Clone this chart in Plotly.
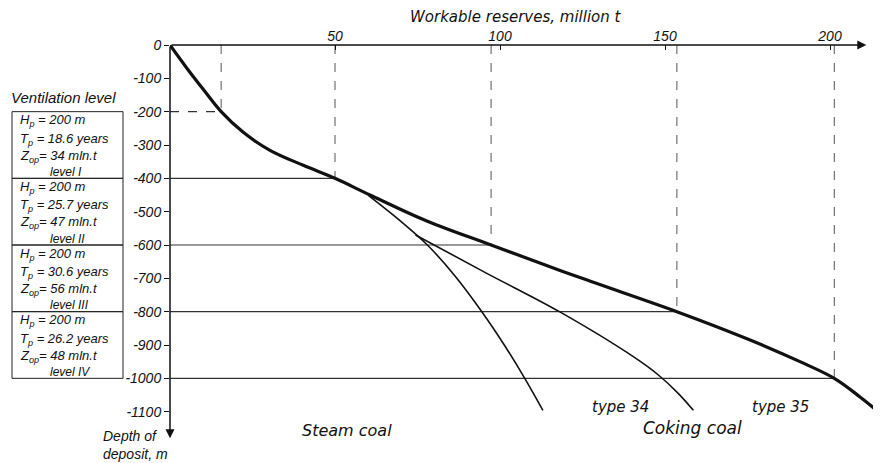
import plotly.graph_objects as go

# ---- data ----
level_depth = [-200, -400, -600, -800, -1000]
level_reserve = [15.5, 50, 97.3, 153.6, 201.3]

main_x = [0, 5, 10, 15.5, 22.2, 30.3, 40.4, 50, 60.6, 77.8, 97.3, 124, 153.6, 175.8, 190.9, 201.3, 209, 214.6]
main_y = [0, -68, -132, -200, -262, -316, -361, -400, -450, -528, -600, -697, -800, -885, -950, -1000, -1055, -1100]

steam_x = [60.2, 69.7, 78, 86.3, 94.5, 101.3, 107.5, 113]
steam_y = [-452, -527, -600, -692, -800, -900, -1000, -1096]

t34_x = [74.4, 96, 118, 140.4, 148, 154, 158.6]
t34_y = [-570, -685, -800, -935, -990, -1045, -1096]

x_ticks = [50, 100, 150, 200]
y_ticks = [0, -100, -200, -300, -400, -500, -600, -700, -800, -900, -1000, -1100]
y_ticktext = ["0", "-100", "-200", "-300", "-400", "-500", "-600", "-700", "-800",
              "-900", "-1000", "-1100"]

box_H = ["200 m", "200 m", "200 m", "200 m"]
box_T = ["18.6 years", "25.7 years", "30.6 years", "26.2 years"]
box_Z = ["34 mln.t", "47 mln.t", "56 mln.t", "48 mln.t"]
box_level = ["level I", "level II", "level III", "level IV"]

FONT = "DejaVu Sans"
FONT2 = "Liberation Sans"
INK = "#111111"

fig = go.Figure()

# guide lines
for xr, yd in zip(level_reserve, level_depth):
    fig.add_trace(go.Scatter(x=[xr, xr], y=[0, yd], mode="lines",
                             line=dict(color="#555555", width=1, dash="dash"),
                             hoverinfo="skip", showlegend=False))
    fig.add_trace(go.Scatter(x=[0, xr], y=[yd, yd], mode="lines",
                             line=dict(color="#333333", width=1.2,
                                       dash="dash" if yd == -200 else "solid"),
                             hoverinfo="skip", showlegend=False))

fig.add_trace(go.Scatter(x=steam_x, y=steam_y, mode="lines", line_shape="spline",
                         line=dict(color=INK, width=1.6), showlegend=False))
fig.add_trace(go.Scatter(x=t34_x, y=t34_y, mode="lines", line_shape="spline",
                         line=dict(color=INK, width=1.6), showlegend=False))
fig.add_trace(go.Scatter(x=main_x, y=main_y, mode="lines", line_shape="spline",
                         line=dict(color=INK, width=3.2, smoothing=1), showlegend=False))

# axis arrows
fig.add_annotation(x=211, y=0, ax=0, ay=0, xref="x", yref="y", axref="x", ayref="y",
                   text="", showarrow=True, arrowhead=2, arrowsize=1.2, arrowwidth=1.5,
                   arrowcolor=INK)
fig.add_annotation(x=0, y=-1180, ax=0, ay=0, xref="x", yref="y", axref="x", ayref="y",
                   text="", showarrow=True, arrowhead=2, arrowsize=1.2, arrowwidth=1.5,
                   arrowcolor=INK)

# left boxes (page pixel -> paper fraction; plot area starts at page x=170, 711 px wide)
L = 170.0
W = 711.0
def px(p):
    return (p - L) / W

for i in range(4):
    top = level_depth[i]
    bot = level_depth[i + 1]
    fig.add_shape(type="rect", xref="paper", yref="y", x0=px(12), x1=px(123),
                  y0=bot, y1=top, line=dict(color="#222222", width=1))
    f = dict(family=FONT2, size=13, color=INK, style="italic")
    fig.add_annotation(x=px(18), y=top - 27, xref="paper", yref="y", xanchor="left",
                       text="H<sub>p</sub> = " + box_H[i], showarrow=False, font=f)
    fig.add_annotation(x=px(18), y=top - 82, xref="paper", yref="y", xanchor="left",
                       text="T<sub>p</sub> = " + box_T[i], showarrow=False, font=f)
    fig.add_annotation(x=px(18), y=top - 133, xref="paper", yref="y", xanchor="left",
                       text="Z<sub>op</sub>= " + box_Z[i], showarrow=False, font=f)
    fig.add_annotation(x=px(48), y=top - 181, xref="paper", yref="y", xanchor="left",
                       text=box_level[i], showarrow=False,
                       font=dict(family=FONT2, size=12, color=INK, style="italic"))

fi = dict(family=FONT2, size=15, color=INK, style="italic")
fig.add_annotation(x=px(63), y=-156, xref="paper", yref="y", xanchor="center",
                   text="Ventilation level", showarrow=False, font=fi)
fig.add_annotation(x=px(516), y=1.0, xref="paper", yref="paper", yshift=28,
                   yanchor="middle", xanchor="center",
                   text="Workable reserves, million t", showarrow=False,
                   font=dict(family=FONT, size=15, color=INK, style="italic"))
fig.add_annotation(x=px(347), y=-1155, xref="paper", yref="y", xanchor="center",
                   text="Steam coal", showarrow=False,
                   font=dict(family=FONT, size=16, color=INK, style="italic"))
fig.add_annotation(x=px(692), y=-1150, xref="paper", yref="y", xanchor="center",
                   text="Coking coal", showarrow=False,
                   font=dict(family=FONT, size=17, color=INK, style="italic"))
fig.add_annotation(x=px(620), y=-1087, xref="paper", yref="y", xanchor="center",
                   text="type 34", showarrow=False,
                   font=dict(family=FONT, size=15, color=INK, style="italic"))
fig.add_annotation(x=px(780), y=-1087, xref="paper", yref="y", xanchor="center",
                   text="type 35", showarrow=False,
                   font=dict(family=FONT, size=15, color=INK, style="italic"))
fig.add_annotation(x=px(101), y=-1143, xref="paper", yref="y", xanchor="left",
                   yanchor="top", text="Depth of<br>deposit, m", showarrow=False,
                   align="left", font=dict(family=FONT2, size=14, color=INK, style="italic"))

fig.update_xaxes(range=[0, W / 3.3], side="top", tickvals=x_ticks, ticks="inside",
                 ticklen=5, tickcolor=INK, showline=False, showgrid=False, zeroline=False,
                 tickfont=dict(family=FONT2, size=14, color=INK, style="italic"))
fig.update_yaxes(range=[-1185, 0], tickvals=y_ticks, ticktext=y_ticktext,
                 ticks="outside", ticklen=5,
                 tickcolor=INK, showline=False, showgrid=False, zeroline=False,
                 tickfont=dict(family=FONT2, size=14, color=INK, style="italic"))

# page body has an 8 px margin, so the figure is 8 px smaller than the window
fig.update_layout(width=873, height=455,
                  margin=dict(l=162, r=0, t=37, b=23, autoexpand=False),
                  plot_bgcolor="white", paper_bgcolor="white")

fig.write_html("out.html")
